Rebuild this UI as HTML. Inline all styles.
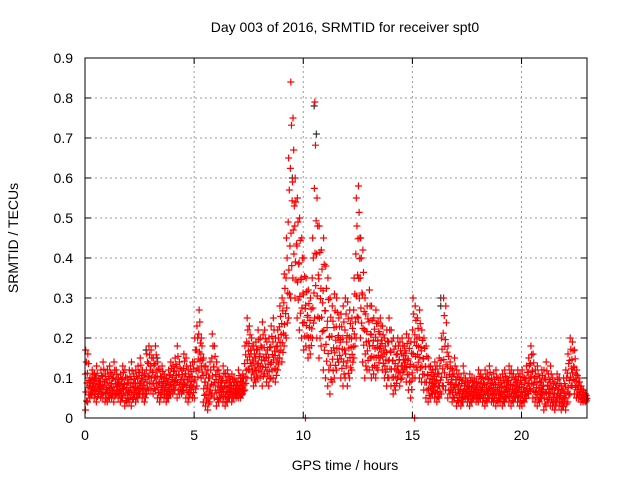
<!DOCTYPE html>
<html><head><meta charset="utf-8"><style>
body{margin:0;background:#fff}
svg{display:block;font-family:"Liberation Sans",sans-serif}
</style></head><body>
<svg id="chart" width="640" height="480" viewBox="0 0 640 480">
<text x="345" y="32" font-size="14" text-anchor="middle">Day 003 of 2016, SRMTID for receiver spt0</text>
<text x="345" y="470" font-size="14" text-anchor="middle">GPS time / hours</text>
<text x="18" y="238" font-size="14" text-anchor="middle" transform="rotate(-90 18 238)">SRMTID / TECUs</text>
<g id="grid"></g><g id="ticks"></g><g id="marks"></g>
<rect x="85" y="58" width="502" height="360" fill="none" stroke="#000" stroke-width="1"/>
</svg>
<script>
const xTicks=[0,5,10,15,20];
const yTicks=[0,0.1,0.2,0.3,0.4,0.5,0.6,0.7,0.8,0.9];
const yTickLabels=["0","0.1","0.2","0.3","0.4","0.5","0.6","0.7","0.8","0.9"];
const tStart=0, tStep=0.1;
const hi=[.17,.16,.1,.12,.11,.13,.1,.12,.14,.11,
.12,.13,.11,.14,.12,.1,.11,.13,.12,.1,
.12,.14,.11,.12,.13,.15,.12,.11,.16,.18,
.17,.15,.18,.14,.12,.13,.11,.1,.12,.14,
.13,.15,.18,.14,.12,.16,.15,.12,.13,.14,
.2,.23,.27,.2,.15,.13,.12,.14,.21,.18,
.14,.12,.1,.13,.11,.12,.1,.11,.1,.09,
.12,.1,.11,.18,.25,.23,.2,.18,.19,.22,
.2,.24,.22,.19,.2,.23,.25,.2,.22,.28,
.3,.36,.45,.65,.84,.75,.6,.55,.5,.45,
.4,.35,.32,.3,.45,.79,.55,.48,.42,.45,
.38,.35,.3,.28,.31,.3,.25,.26,.28,.3,
.29,.27,.25,.35,.55,.58,.45,.42,.3,.28,
.32,.28,.25,.27,.24,.25,.23,.2,.22,.25,
.22,.2,.18,.2,.19,.2,.18,.21,.2,.19,
.3,.28,.25,.27,.22,.2,.18,.15,.13,.12,
.14,.13,.15,.2,.3,.28,.18,.14,.12,.15,
.12,.11,.1,.13,.1,.09,.11,.1,.1,.09,
.12,.11,.1,.12,.11,.13,.1,.11,.12,.1,
.1,.11,.12,.1,.13,.12,.11,.1,.12,.11,
.12,.1,.13,.15,.18,.16,.12,.13,.1,.12,
.12,.14,.11,.13,.1,.09,.11,.1,.08,.1,
.12,.16,.2,.19,.17,.12,.1,.08,.07,.06];
const lo=[.02,.04,.05,.06,.05,.04,.06,.05,.05,.04,
.04,.05,.05,.04,.06,.05,.04,.05,.03,.04,
.04,.03,.05,.04,.05,.06,.05,.04,.06,.07,
.07,.06,.07,.05,.04,.06,.05,.04,.05,.06,
.06,.07,.05,.06,.06,.07,.05,.04,.06,.05,
.05,.08,.12,.1,.04,.03,.02,.04,.06,.05,
.03,.04,.05,.04,.03,.04,.05,.04,.05,.05,
.05,.05,.06,.07,.1,.12,.1,.08,.09,.1,
.1,.08,.11,.09,.08,.1,.1,.09,.12,.15,
.14,.18,.2,.25,.3,.35,.3,.25,.22,.2,
.17,.18,.15,.16,.2,.25,.2,.15,.18,.12,
.1,.08,.06,.09,.1,.12,.14,.1,.08,.1,
.08,.1,.12,.15,.2,.25,.2,.14,.1,.12,
.12,.1,.11,.1,.12,.15,.12,.1,.08,.1,
.08,.06,.07,.1,.08,.1,.12,.09,.07,.05,
.1,.1,.12,.1,.09,.07,.05,.04,.05,.06,
.05,.04,.05,.06,.08,.07,.05,.06,.04,.05,
.03,.04,.03,.04,.05,.04,.03,.04,.05,.04,
.04,.05,.04,.03,.04,.05,.04,.04,.03,.04,
.04,.03,.04,.05,.04,.03,.04,.05,.04,.03,
.03,.04,.05,.06,.07,.05,.04,.03,.04,.05,
.02,.03,.04,.03,.03,.02,.04,.03,.02,.03,
.02,.04,.06,.08,.06,.05,.05,.04,.04,.04];
const blackT=[2.8,3.3,9.5,10.5,10.6,12.6,16.3,16.3,0.5,7.5];
const blackV=[.17,.15,.6,.78,.71,.45,.3,.28,.1,.12];
const zeroT=[10.1,15.1];
const zeroV=[0,0];
const X0=85,X1=587,Y0=418,Y1=58;
const xs=t=>X0+(t-0)/23*(X1-X0);
const ys=v=>Y0-(v/0.9)*(Y0-Y1);
const NS='http://www.w3.org/2000/svg';
const grid=document.getElementById('grid'),ticks=document.getElementById('ticks'),marks=document.getElementById('marks');
function mk(tag,attrs,parent){const e=document.createElementNS(NS,tag);for(const k in attrs)e.setAttribute(k,attrs[k]);parent.appendChild(e);return e;}
yTicks.forEach((v,i)=>{
 const y=ys(v);
 if(i>0&&i<yTicks.length-1){const g=mk('line',{x1:X0,x2:X1,y1:y,y2:y,stroke:'#999','stroke-dasharray':'2,3'},grid);
 
 }
 const tk=mk('path',{d:`M${X0} ${y}h6M${X1} ${y}h-6`,stroke:'#000'},ticks);
 
 
 const t=mk('text',{x:X0-12,y:y+5,'font-size':14,'text-anchor':'end'},ticks);t.textContent=yTickLabels[i];
 
 
});
xTicks.forEach(v=>{
 const x=xs(v);
 if(v>0){const g=mk('line',{x1:x,x2:x,y1:Y0,y2:Y1,stroke:'#999','stroke-dasharray':'2,3'},grid);
 
 }
 const tk=mk('path',{d:`M${x} ${Y0}v-6M${x} ${Y1}v6`,stroke:'#000'},ticks);
 
 
 const t=mk('text',{x:x,y:Y0+22,'font-size':14,'text-anchor':'middle'},ticks);t.textContent=String(v);
 
 
});
function plus(t,v,c){
 const x=xs(t),y=ys(v);
 const p=mk('path',{d:`M${x-3.5} ${y}h7M${x} ${y-3.5}v7`,stroke:c,'stroke-width':1.2,fill:'none'},marks);
 
 
}
const fr=[0,0.15,0.3,0.45,0.6,0.8,1];
const off=[0.02,0.07,0.04,0.09,0.01,0.06,0.03];
blackT.forEach((t,i)=>plus(t,blackV[i],'#333'));
hi.forEach((h,i)=>{
 const t=tStart+i*tStep,l=lo[i];
 fr.forEach((f,j)=>plus(t+off[j],l+(h-l)*f,'#f00'));
});
zeroT.forEach((t,i)=>plus(t,zeroV[i],'#f00'));
</script>
</body></html>
